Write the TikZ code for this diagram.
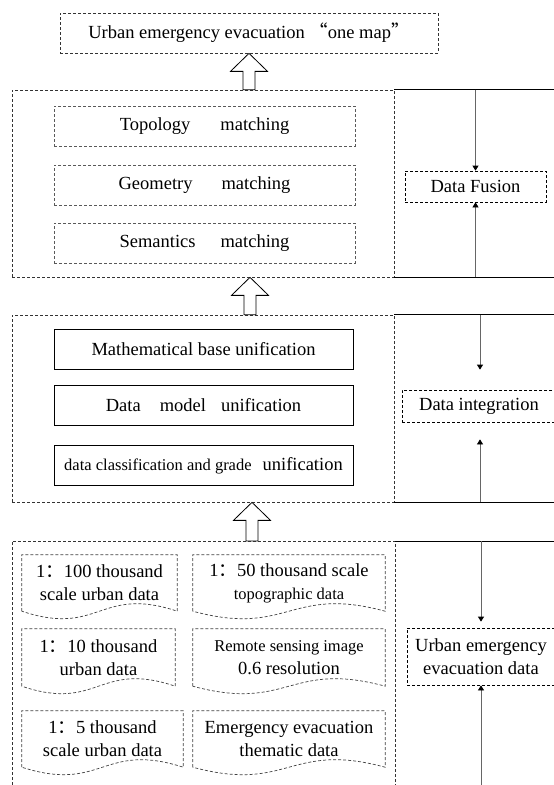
\documentclass[tikz,border=0pt]{standalone}
\usepackage{fontspec}
\setmainfont{Liberation Serif}
\newfontfamily\cjk{Noto Sans CJK SC}
\usepackage{tikz}
\usetikzlibrary{arrows.meta, positioning}
\usetikzlibrary{calc}

\newcommand{\txt}{\fontsize{18.5}{23}\selectfont}
\newcommand{\smtxt}{\fontsize{16.5}{23}\selectfont}
\newcommand{\fcolon}{{\cjk ：}}
\newcommand{\padr}{\rule{20pt}{0pt}}
\newcommand{\docoutline}[1]{%
\draw[docln] (#1.south west) -- (#1.north west) -- (#1.north east) -- (#1.south east)
  .. controls ($(#1.south)+(0,-26)$) and ($(#1.south)+(0,26)$) .. (#1.south west);}
\newcommand{\hollowup}[2]{%
\draw[line width=0.8pt, fill=white] (#1) -- ++(18.5,18) -- ++(-12.5,0) -- ($(#2)+(6,0)$)
  -- ($(#2)+(-6,0)$) -- ($(#1)+(-6,18)$) -- ++(-12.5,0) -- cycle;}

\tikzset{
secbox/.style={draw=black!80, dash pattern=on 3pt off 2pt, line width=0.7pt, inner sep=0pt},
dbox/.style={draw=black!65, dash pattern=on 3pt off 2pt, line width=0.7pt, inner sep=0pt, font=\txt},
ubox/.style={draw=black, line width=0.7pt, inner sep=0pt, font=\txt},
lblbox/.style={draw=black, dash pattern=on 3pt off 2pt, line width=0.7pt, inner sep=0pt, font=\txt, align=center},
docbox/.style={inner sep=0pt, font=\txt, align=center},
docln/.style={draw=black!75, dash pattern=on 3pt off 2pt, line width=0.7pt},
rarrow/.style={draw=black!60, line width=0.7pt, -{Triangle[width=6pt,length=5pt,color=black]}},
solidln/.style={draw=black, line width=0.7pt}
}

\begin{document}
\begin{tikzpicture}[x=1pt, y=-1pt]
\useasboundingbox (0,0) rectangle (554,785);
\clip (0,0) rectangle (554,785);

\node[dbox, draw=black!80, minimum width=378, minimum height=40] (onemap) at (249,33) {Urban emergency evacuation {\cjk “}one map{\cjk ”}};

\node[secbox, minimum width=382, minimum height=187] (fusesec) at (203,183.5) {};
\node[dbox, minimum width=301, minimum height=40] (topo) at (204.5,126) {Topology\hspace{30pt}matching};
\node[dbox, minimum width=301, minimum height=40] (geom) at (204.5,185) {Geometry\hspace{29pt}matching};
\node[dbox, minimum width=301, minimum height=40] (sema) at (204.5,243) {Semantics\hspace{25pt}matching};
\node[lblbox, minimum width=141, minimum height=31] (fuse) at (475.5,186.5) {Data Fusion};

\node[secbox, minimum width=382, minimum height=187] (integsec) at (203,408.5) {};
\node[ubox, minimum width=299, minimum height=40] (mathb) at (203.5,349) {Mathematical base unification};
\node[ubox, minimum width=299, minimum height=40] (model) at (203.5,405) {Data\hspace{19pt}model\hspace{15pt}unification};
\node[ubox, minimum width=299, minimum height=40] (classif) at (203.5,465.5) {{\smtxt data classification and grade}\hspace{11pt}unification};
\node[lblbox, minimum width=174, minimum height=32] (integ) at (489,406) {Data integration\padr};

\coordinate (srctop) at (395,541);
\coordinate (srcbot) at (395,785);
\draw[secbox] (12,785) |- (srctop) -- (srcbot);
\node[lblbox, minimum width=168, minimum height=57] (urbdata) at (491,656.5) {Urban emergency\padr\\evacuation data\padr};

\node[docbox, minimum width=155, minimum height=56] (d1) at (99.5,583) {1\fcolon100 thousand\\scale urban data};
\node[docbox, minimum width=192, minimum height=56] (d2) at (289,583) {1\fcolon50 thousand scale\\{\smtxt topographic data}};
\node[docbox, minimum width=153, minimum height=57] (d3) at (98.5,657.5) {1\fcolon10 thousand\\urban data};
\node[docbox, minimum width=192, minimum height=57] (d4) at (289,657.5) {{\smtxt Remote sensing image}\\0.6 resolution};
\node[docbox, minimum width=161, minimum height=56] (d5) at (102.5,739) {1\fcolon5 thousand\\scale urban data};
\node[docbox, minimum width=192, minimum height=56] (d6) at (289,739) {Emergency evacuation\\thematic data};
\docoutline{d1}
\docoutline{d2}
\docoutline{d3}
\docoutline{d4}
\docoutline{d5}
\docoutline{d6}

\draw[solidln] (fusesec.north east) -- ++(165,0);
\draw[solidln] (fusesec.south east) -- ++(165,0);
\draw[solidln] (integsec.north east) -- ++(165,0);
\draw[solidln] (integsec.south east) -- ++(165,0);
\draw[solidln] (srctop) -- ++(165,0);

\coordinate (ix) at (480,0);
\coordinate (ux) at (481,0);
\draw[rarrow] (fuse.north |- fusesec.north) -- (fuse.north);
\draw[rarrow] (fuse.south |- fusesec.south) -- (fuse.south);
\draw[rarrow, shorten >=20pt] (ix |- integsec.north) -- (ix |- integ.north);
\draw[rarrow, shorten >=17pt] (ix |- integsec.south) -- (ix |- integ.south);
\draw[rarrow, shorten >=6pt] (ux |- srctop) -- (ux |- urbdata.north);
\draw[rarrow] (ux |- srcbot) -- (ux |- urbdata.south);

\coordinate (ax1) at (249,0);
\coordinate (ax2) at (250,0);
\coordinate (ax3) at (252,0);
\hollowup{ax1 |- onemap.south}{ax1 |- fusesec.north}
\hollowup{ax2 |- fusesec.south}{ax2 |- integsec.north}
\hollowup{ax3 |- integsec.south}{ax3 |- srctop}
\end{tikzpicture}
\end{document}
